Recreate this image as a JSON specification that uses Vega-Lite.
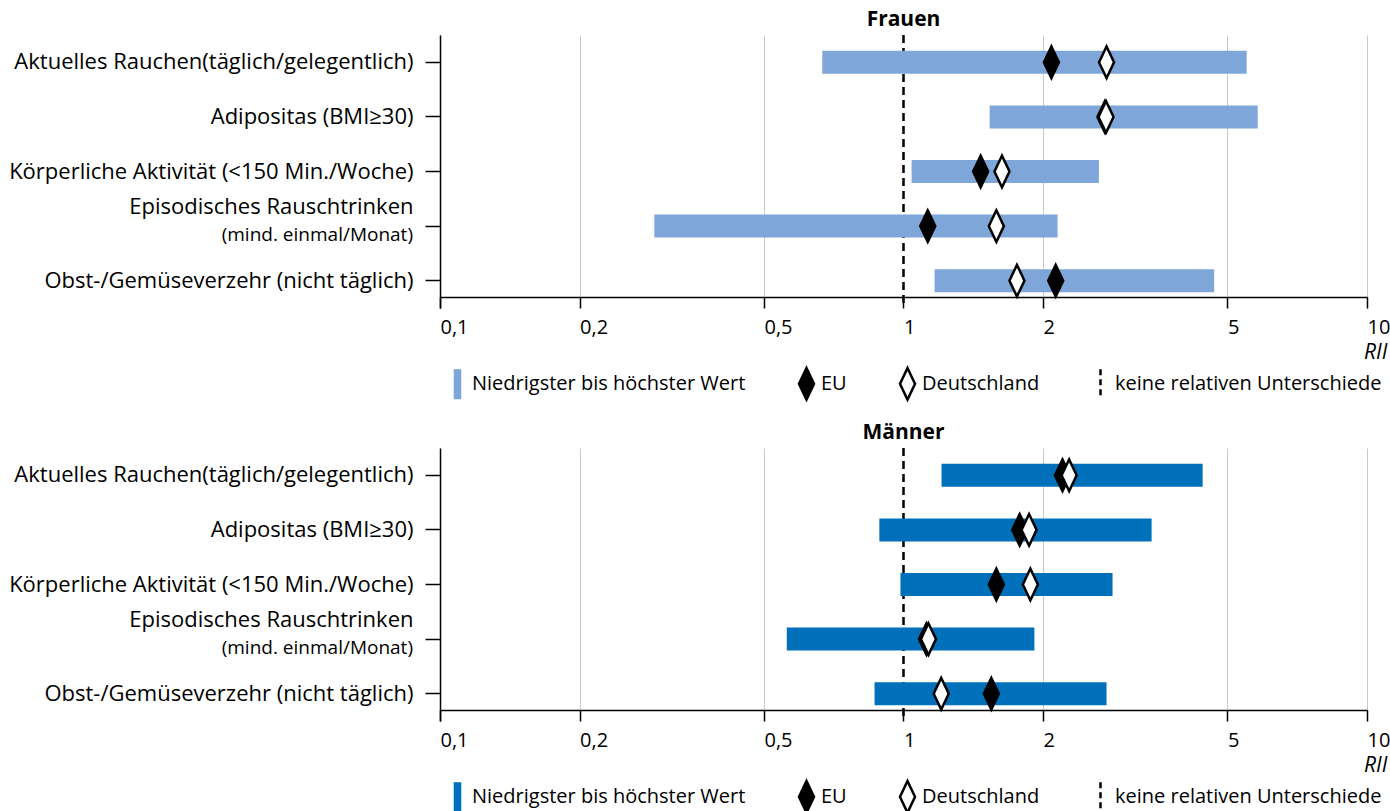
{
  "$schema": "https://vega.github.io/schema/vega-lite/v6.json",
  "autosize": {"type": "pad"},
  "padding": {"left": 8, "top": 8, "right": 0, "bottom": 0},
  "background": "white",
  "config": {
    "font": "Open Sans",
    "view": {"stroke": null},
    "axis": {
      "labelFont": "Open Sans",
      "labelFontSize": 20,
      "labelColor": "black",
      "domainColor": "black",
      "domainWidth": 1.5,
      "tickColor": "black",
      "tickWidth": 1.5,
      "labelLimit": 600
    },
    "axisY": {"labelFontSize": 22},
    "legend": {
      "orient": "bottom",
      "direction": "horizontal",
      "labelFont": "Open Sans",
      "labelFontSize": 20,
      "labelColor": "black",
      "labelLimit": 600,
      "symbolSize": 1000,
      "symbolStrokeWidth": 2.5,
      "columnPadding": 43,
      "labelOffset": -3,
      "offset": 4,
      "padding": 0
    },
    "title": {"font": "Open Sans", "fontSize": 21, "fontWeight": "bold", "color": "black", "anchor": "middle", "frame": "group", "offset": 4}
  },
  "datasets": {
    "spannen": [
      {"Geschlecht": "Frauen", "Kategorie": "Aktuelles Rauchen(täglich/gelegentlich)", "min": 0.668, "max": 5.5},
      {"Geschlecht": "Frauen", "Kategorie": "Adipositas (BMI≥30)", "min": 1.534, "max": 5.81},
      {"Geschlecht": "Frauen", "Kategorie": "Körperliche Aktivität (<150 Min./Woche)", "min": 1.041, "max": 2.64},
      {"Geschlecht": "Frauen", "Kategorie": "Episodisches Rauschtrinken", "min": 0.29, "max": 2.15},
      {"Geschlecht": "Frauen", "Kategorie": "Obst-/Gemüseverzehr (nicht täglich)", "min": 1.167, "max": 4.68},
      {"Geschlecht": "Männer", "Kategorie": "Aktuelles Rauchen(täglich/gelegentlich)", "min": 1.208, "max": 4.42},
      {"Geschlecht": "Männer", "Kategorie": "Adipositas (BMI≥30)", "min": 0.887, "max": 3.43},
      {"Geschlecht": "Männer", "Kategorie": "Körperliche Aktivität (<150 Min./Woche)", "min": 0.985, "max": 2.825},
      {"Geschlecht": "Männer", "Kategorie": "Episodisches Rauschtrinken", "min": 0.56, "max": 1.916},
      {"Geschlecht": "Männer", "Kategorie": "Obst-/Gemüseverzehr (nicht täglich)", "min": 0.866, "max": 2.742}
    ],
    "punkte": [
      {"Geschlecht": "Frauen", "Kategorie": "Aktuelles Rauchen(täglich/gelegentlich)", "Typ": "EU", "RII": 2.085},
      {"Geschlecht": "Frauen", "Kategorie": "Adipositas (BMI≥30)", "Typ": "EU", "RII": 2.72},
      {"Geschlecht": "Frauen", "Kategorie": "Körperliche Aktivität (<150 Min./Woche)", "Typ": "EU", "RII": 1.467},
      {"Geschlecht": "Frauen", "Kategorie": "Episodisches Rauschtrinken", "Typ": "EU", "RII": 1.128},
      {"Geschlecht": "Frauen", "Kategorie": "Obst-/Gemüseverzehr (nicht täglich)", "Typ": "EU", "RII": 2.13},
      {"Geschlecht": "Männer", "Kategorie": "Aktuelles Rauchen(täglich/gelegentlich)", "Typ": "EU", "RII": 2.203},
      {"Geschlecht": "Männer", "Kategorie": "Adipositas (BMI≥30)", "Typ": "EU", "RII": 1.781},
      {"Geschlecht": "Männer", "Kategorie": "Körperliche Aktivität (<150 Min./Woche)", "Typ": "EU", "RII": 1.586},
      {"Geschlecht": "Männer", "Kategorie": "Episodisches Rauschtrinken", "Typ": "EU", "RII": 1.121},
      {"Geschlecht": "Männer", "Kategorie": "Obst-/Gemüseverzehr (nicht täglich)", "Typ": "EU", "RII": 1.547},
      {"Geschlecht": "Frauen", "Kategorie": "Aktuelles Rauchen(täglich/gelegentlich)", "Typ": "Deutschland", "RII": 2.742},
      {"Geschlecht": "Frauen", "Kategorie": "Adipositas (BMI≥30)", "Typ": "Deutschland", "RII": 2.735},
      {"Geschlecht": "Frauen", "Kategorie": "Körperliche Aktivität (<150 Min./Woche)", "Typ": "Deutschland", "RII": 1.631},
      {"Geschlecht": "Frauen", "Kategorie": "Episodisches Rauschtrinken", "Typ": "Deutschland", "RII": 1.586},
      {"Geschlecht": "Frauen", "Kategorie": "Obst-/Gemüseverzehr (nicht täglich)", "Typ": "Deutschland", "RII": 1.757},
      {"Geschlecht": "Männer", "Kategorie": "Aktuelles Rauchen(täglich/gelegentlich)", "Typ": "Deutschland", "RII": 2.277},
      {"Geschlecht": "Männer", "Kategorie": "Adipositas (BMI≥30)", "Typ": "Deutschland", "RII": 1.866},
      {"Geschlecht": "Männer", "Kategorie": "Körperliche Aktivität (<150 Min./Woche)", "Typ": "Deutschland", "RII": 1.878},
      {"Geschlecht": "Männer", "Kategorie": "Episodisches Rauschtrinken", "Typ": "Deutschland", "RII": 1.132},
      {"Geschlecht": "Männer", "Kategorie": "Obst-/Gemüseverzehr (nicht täglich)", "Typ": "Deutschland", "RII": 1.206}
    ],
    "zusatz": [
      {"Kategorie": "Episodisches Rauschtrinken", "Zusatz": "(mind. einmal/Monat)"}
    ],
    "referenz": [
      {"RII": 1}
    ]
  },
  "spacing": 16,
  "resolve": {
    "scale": {"x": "independent", "y": "independent", "fill": "independent", "stroke": "independent", "shape": "independent", "strokeDash": "independent"},
    "legend": {"fill": "independent", "stroke": "independent", "shape": "independent", "strokeDash": "independent"}
  },
  "vconcat": [
    {
      "title": {"text": "Frauen"},
      "width": 927,
      "height": 273,
      "layer": [
        {
          "data": {"name": "referenz"},
          "mark": {"type": "rule", "color": "black", "strokeWidth": 2.5, "strokeDash": [8, 5]},
          "encoding": {"x": {"field": "RII", "type": "quantitative", "title": "RII"}}
        },
        {
          "data": {"name": "spannen"},
          "transform": [{"filter": "datum.Geschlecht === 'Frauen'"}],
          "mark": {"type": "bar", "size": 23, "color": "#7fa6d8"},
          "encoding": {
            "y": {
              "field": "Kategorie", "type": "nominal",
              "scale": {"domain": ["Aktuelles Rauchen(täglich/gelegentlich)", "Adipositas (BMI≥30)", "Körperliche Aktivität (<150 Min./Woche)", "Episodisches Rauschtrinken", "Obst-/Gemüseverzehr (nicht täglich)"], "paddingInner": 0, "paddingOuter": 0},
              "axis": {"title": null, "tickSize": 15, "labelPadding": 12, "grid": false, "labelOffset": {"condition": {"test": "datum.value === 'Episodisches Rauschtrinken'", "value": -19}, "value": 0}}
            },
            "x": {
              "field": "min", "type": "quantitative", "title": "RII",
              "scale": {"type": "log", "domain": [0.1, 10], "nice": false},
              "axis": {
                "values": [0.1, 0.2, 0.5, 1, 2, 5, 10],
                "labelExpr": "replace(format(datum.value, '~g'), '.', ',')",
                "labelAlign": "left",
                "labelPadding": 9,
                "tickSize": 11,
                "offset": -11,
                "grid": true,
                "gridColor": "#c8c8c8",
                "gridWidth": 1,
                "gridOpacity": {"condition": {"test": "datum.value === 1", "value": 0}, "value": 1},
                "title": "RII",
                "titleFont": "Open Sans",
                "titleFontSize": 21,
                "titleFontStyle": "italic",
                "titleFontWeight": "normal",
                "titleColor": "black",
                "titleAnchor": "end",
                "titleAlign": "right",
                "titleX": 947,
                "titlePadding": 4
              }
            },
            "x2": {"field": "max"}
          }
        },
        {
          "data": {"name": "punkte"},
          "transform": [{"filter": "datum.Geschlecht === 'Frauen'"}],
          "mark": {"type": "point", "filled": true, "size": 1000, "strokeWidth": 2.5, "opacity": 1},
          "encoding": {
            "x": {"field": "RII", "type": "quantitative", "title": "RII"},
            "y": {"field": "Kategorie", "type": "nominal"},
            "shape": {"field": "Typ", "type": "nominal", "scale": {"domain": ["Niedrigster bis höchster Wert", "EU", "Deutschland", "keine relativen Unterschiede"], "range": ["M-0.24,-0.95L0.24,-0.95L0.24,0.95L-0.24,0.95Z", "M0,-1L0.475,0L0,1L-0.475,0Z", "M0,-1L0.475,0L0,1L-0.475,0Z", "M0,-0.95L0,0.95"]}, "legend": {"title": null}},
            "fill": {"field": "Typ", "type": "nominal", "scale": {"domain": ["Niedrigster bis höchster Wert", "EU", "Deutschland", "keine relativen Unterschiede"], "range": ["#7fa6d8", "black", "white", "transparent"]}, "legend": {"title": null}},
            "stroke": {"field": "Typ", "type": "nominal", "scale": {"domain": ["Niedrigster bis höchster Wert", "EU", "Deutschland", "keine relativen Unterschiede"], "range": ["transparent", "black", "black", "black"]}, "legend": {"title": null}},
            "strokeDash": {"field": "Typ", "type": "nominal", "scale": {"domain": ["Niedrigster bis höchster Wert", "EU", "Deutschland", "keine relativen Unterschiede"], "range": [[1, 0], [1, 0], [1, 0], [6, 4]]}, "legend": {"title": null}}
          }
        },
        {
          "data": {"name": "zusatz"},
          "mark": {"type": "text", "align": "right", "baseline": "middle", "dx": -27, "dy": 9, "fontSize": 19, "font": "Open Sans", "color": "black"},
          "encoding": {
            "x": {"datum": 0.1, "type": "quantitative", "title": "RII"},
            "y": {"field": "Kategorie", "type": "nominal"},
            "text": {"field": "Zusatz"}
          }
        }
      ]
    },
    {
      "title": {"text": "Männer"},
      "width": 927,
      "height": 273,
      "layer": [
        {
          "data": {"name": "referenz"},
          "mark": {"type": "rule", "color": "black", "strokeWidth": 2.5, "strokeDash": [8, 5]},
          "encoding": {"x": {"field": "RII", "type": "quantitative", "title": "RII"}}
        },
        {
          "data": {"name": "spannen"},
          "transform": [{"filter": "datum.Geschlecht === 'Männer'"}],
          "mark": {"type": "bar", "size": 23, "color": "#0070ba"},
          "encoding": {
            "y": {
              "field": "Kategorie", "type": "nominal",
              "scale": {"domain": ["Aktuelles Rauchen(täglich/gelegentlich)", "Adipositas (BMI≥30)", "Körperliche Aktivität (<150 Min./Woche)", "Episodisches Rauschtrinken", "Obst-/Gemüseverzehr (nicht täglich)"], "paddingInner": 0, "paddingOuter": 0},
              "axis": {"title": null, "tickSize": 15, "labelPadding": 12, "grid": false, "labelOffset": {"condition": {"test": "datum.value === 'Episodisches Rauschtrinken'", "value": -19}, "value": 0}}
            },
            "x": {
              "field": "min", "type": "quantitative", "title": "RII",
              "scale": {"type": "log", "domain": [0.1, 10], "nice": false},
              "axis": {
                "values": [0.1, 0.2, 0.5, 1, 2, 5, 10],
                "labelExpr": "replace(format(datum.value, '~g'), '.', ',')",
                "labelAlign": "left",
                "labelPadding": 9,
                "tickSize": 11,
                "offset": -11,
                "grid": true,
                "gridColor": "#c8c8c8",
                "gridWidth": 1,
                "gridOpacity": {"condition": {"test": "datum.value === 1", "value": 0}, "value": 1},
                "title": "RII",
                "titleFont": "Open Sans",
                "titleFontSize": 21,
                "titleFontStyle": "italic",
                "titleFontWeight": "normal",
                "titleColor": "black",
                "titleAnchor": "end",
                "titleAlign": "right",
                "titleX": 947,
                "titlePadding": 4
              }
            },
            "x2": {"field": "max"}
          }
        },
        {
          "data": {"name": "punkte"},
          "transform": [{"filter": "datum.Geschlecht === 'Männer'"}],
          "mark": {"type": "point", "filled": true, "size": 1000, "strokeWidth": 2.5, "opacity": 1},
          "encoding": {
            "x": {"field": "RII", "type": "quantitative", "title": "RII"},
            "y": {"field": "Kategorie", "type": "nominal"},
            "shape": {"field": "Typ", "type": "nominal", "scale": {"domain": ["Niedrigster bis höchster Wert", "EU", "Deutschland", "keine relativen Unterschiede"], "range": ["M-0.24,-0.95L0.24,-0.95L0.24,0.95L-0.24,0.95Z", "M0,-1L0.475,0L0,1L-0.475,0Z", "M0,-1L0.475,0L0,1L-0.475,0Z", "M0,-0.95L0,0.95"]}, "legend": {"title": null}},
            "fill": {"field": "Typ", "type": "nominal", "scale": {"domain": ["Niedrigster bis höchster Wert", "EU", "Deutschland", "keine relativen Unterschiede"], "range": ["#0070ba", "black", "white", "transparent"]}, "legend": {"title": null}},
            "stroke": {"field": "Typ", "type": "nominal", "scale": {"domain": ["Niedrigster bis höchster Wert", "EU", "Deutschland", "keine relativen Unterschiede"], "range": ["transparent", "black", "black", "black"]}, "legend": {"title": null}},
            "strokeDash": {"field": "Typ", "type": "nominal", "scale": {"domain": ["Niedrigster bis höchster Wert", "EU", "Deutschland", "keine relativen Unterschiede"], "range": [[1, 0], [1, 0], [1, 0], [6, 4]]}, "legend": {"title": null}}
          }
        },
        {
          "data": {"name": "zusatz"},
          "mark": {"type": "text", "align": "right", "baseline": "middle", "dx": -27, "dy": 9, "fontSize": 19, "font": "Open Sans", "color": "black"},
          "encoding": {
            "x": {"datum": 0.1, "type": "quantitative", "title": "RII"},
            "y": {"field": "Kategorie", "type": "nominal"},
            "text": {"field": "Zusatz"}
          }
        }
      ]
    }
  ]
}
